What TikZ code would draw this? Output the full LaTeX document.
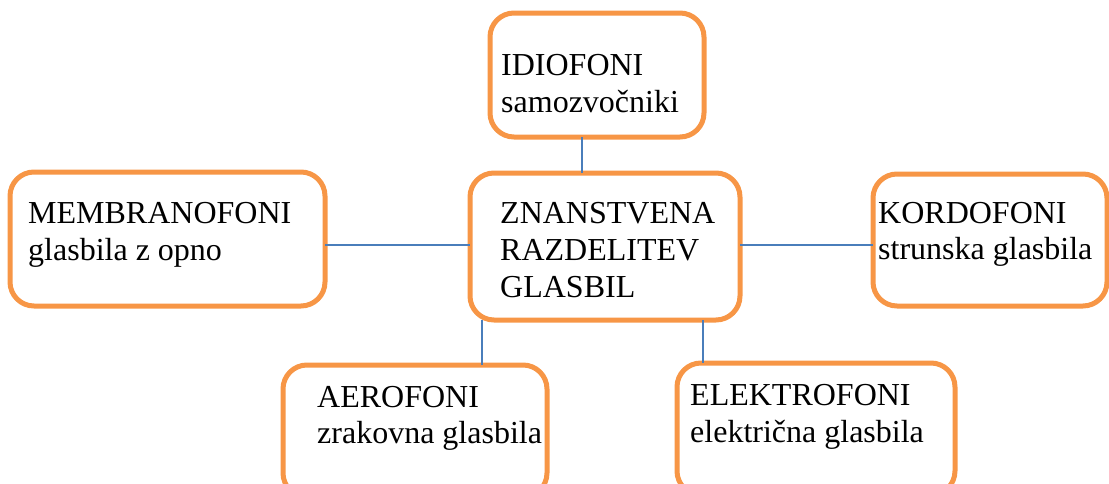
\documentclass[tikz,border=0pt]{standalone}
\usepackage{fontspec}
\setmainfont{Liberation Serif}
\definecolor{boxorange}{HTML}{F79646}
\definecolor{linkblue}{HTML}{4A7EBB}
\tikzset{
  box/.style={draw=boxorange, line width=5pt, rounded corners=24pt, fill=white, inner sep=0pt, outer sep=0pt},
  link/.style={draw=linkblue, line width=1.6pt},
  txt/.style={anchor=base west, inner sep=0pt, font=\fontsize{32}{37}\selectfont, text=black}
}
\begin{document}
\begin{tikzpicture}[x=1pt,y=-1pt]
\useasboundingbox (0,0) rectangle (1109,483);
\clip (0,0) rectangle (1109,483);
% boxes
\node[box, minimum width=214pt, minimum height=124pt] (idio) at (597,75) {};
\node[box, minimum width=315pt, minimum height=134pt] (memb) at (167.5,239) {};
\node[box, minimum width=270pt, minimum height=147pt] (ctr) at (605,246.5) {};
\node[box, minimum width=234pt, minimum height=132pt] (kord) at (990,240) {};
\node[box, minimum width=264pt, minimum height=132pt] (aero) at (415,431) {};
\node[box, minimum width=278pt, minimum height=132pt] (elek) at (816,429) {};
% connector guides
\coordinate (gx1) at (582,0);
\coordinate (gy) at (0,245);
\coordinate (gx2) at (482,0);
\coordinate (gx3) at (703,0);
% connectors
\draw[link] (idio.south -| gx1) -- (ctr.north -| gx1);
\draw[link] (memb.east |- gy) -- (ctr.west |- gy);
\draw[link] (ctr.east |- gy) -- (kord.west |- gy);
\draw[link] (ctr.south -| gx2) -- (aero.north -| gx2);
\draw[link] (ctr.south -| gx3) -- (elek.north -| gx3);
% texts
\node[txt] (idio1) at (501,75) {IDIOFONI};
\node[txt] (idio2) at (501,112) {samozvočniki};
\node[txt] (memb1) at (28,223) {MEMBRANOFONI};
\node[txt] (memb2) at (28,260) {glasbila z opno};
\node[txt] (ctr1) at (500,223) {ZNANSTVENA};
\node[txt] (ctr2) at (500,260) {RAZDELITEV};
\node[txt] (ctr3) at (500,297) {GLASBIL};
\node[txt] (kord1) at (878,223) {KORDOFONI};
\node[txt] (kord2) at (878,259) {strunska glasbila};
\node[txt] (aero1) at (317,407) {AEROFONI};
\node[txt] (aero2) at (317,443) {zrakovna glasbila};
\node[txt] (elek1) at (690,405) {ELEKTROFONI};
\node[txt] (elek2) at (690,442) {električna glasbila};
\end{tikzpicture}
\end{document}
